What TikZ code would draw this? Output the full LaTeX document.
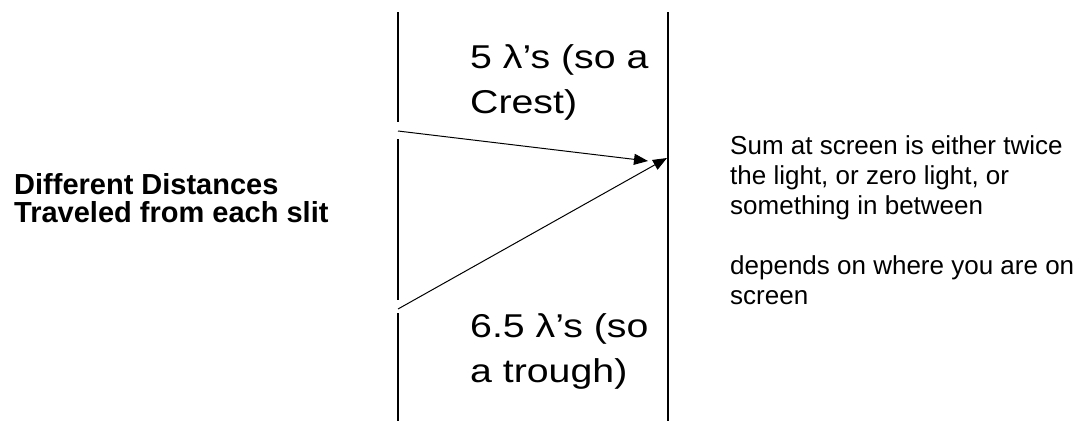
\documentclass[tikz,border=0pt]{standalone}
\usepackage{fontspec}
\setmainfont{Liberation Sans}
\newfontfamily\widefont[FakeStretch=1.19]{Liberation Sans}
\usetikzlibrary{arrows.meta}

\begin{document}
\begin{tikzpicture}[x=1pt,y=-1pt,
    wall/.style={line width=1.3pt},
    ray/.style={line width=1pt,-{Triangle[length=14pt,width=11pt]}},
    lbl/.style={anchor=base west,inner sep=0pt,align=left}]
    \useasboundingbox (0,0) rectangle (1083,421);
    % slits and screen
    \draw[wall] (398,12) -- (398,122);
    \draw[wall] (398,139) -- (398,300);
    \draw[wall] (398,313) -- (398,421);
    \draw[wall] (668,12) -- (668,421);
    \coordinate (slitA) at (398,131);
    \coordinate (slitB) at (398,309);
    \coordinate (hitA) at (648,161);
    \coordinate (hitB) at (667,158);
    \draw[ray] (slitA) -- (hitA);
    \draw[ray] (slitB) -- (hitB);
    % labels (anchored at the baseline of their last line)
    \node[lbl,font=\widefont\fontsize{33}{45}\selectfont] (crest) at (470,113) {5 λ’s (so a\\Crest)};
    \node[lbl,font=\widefont\fontsize{33}{45}\selectfont] (trough) at (470,382) {6.5 λ’s (so\\a trough)};
    \node[lbl,font=\bfseries\fontsize{29}{27.5}\selectfont] (dist) at (14,222) {Different Distances\\Traveled from each slit};
    \node[lbl,font=\fontsize{26}{30}\selectfont] (sum) at (730,304) {Sum at screen is either twice\\the light, or zero light, or\\something in between\\[30pt]depends on where you are on\\screen};
\end{tikzpicture}
\end{document}
